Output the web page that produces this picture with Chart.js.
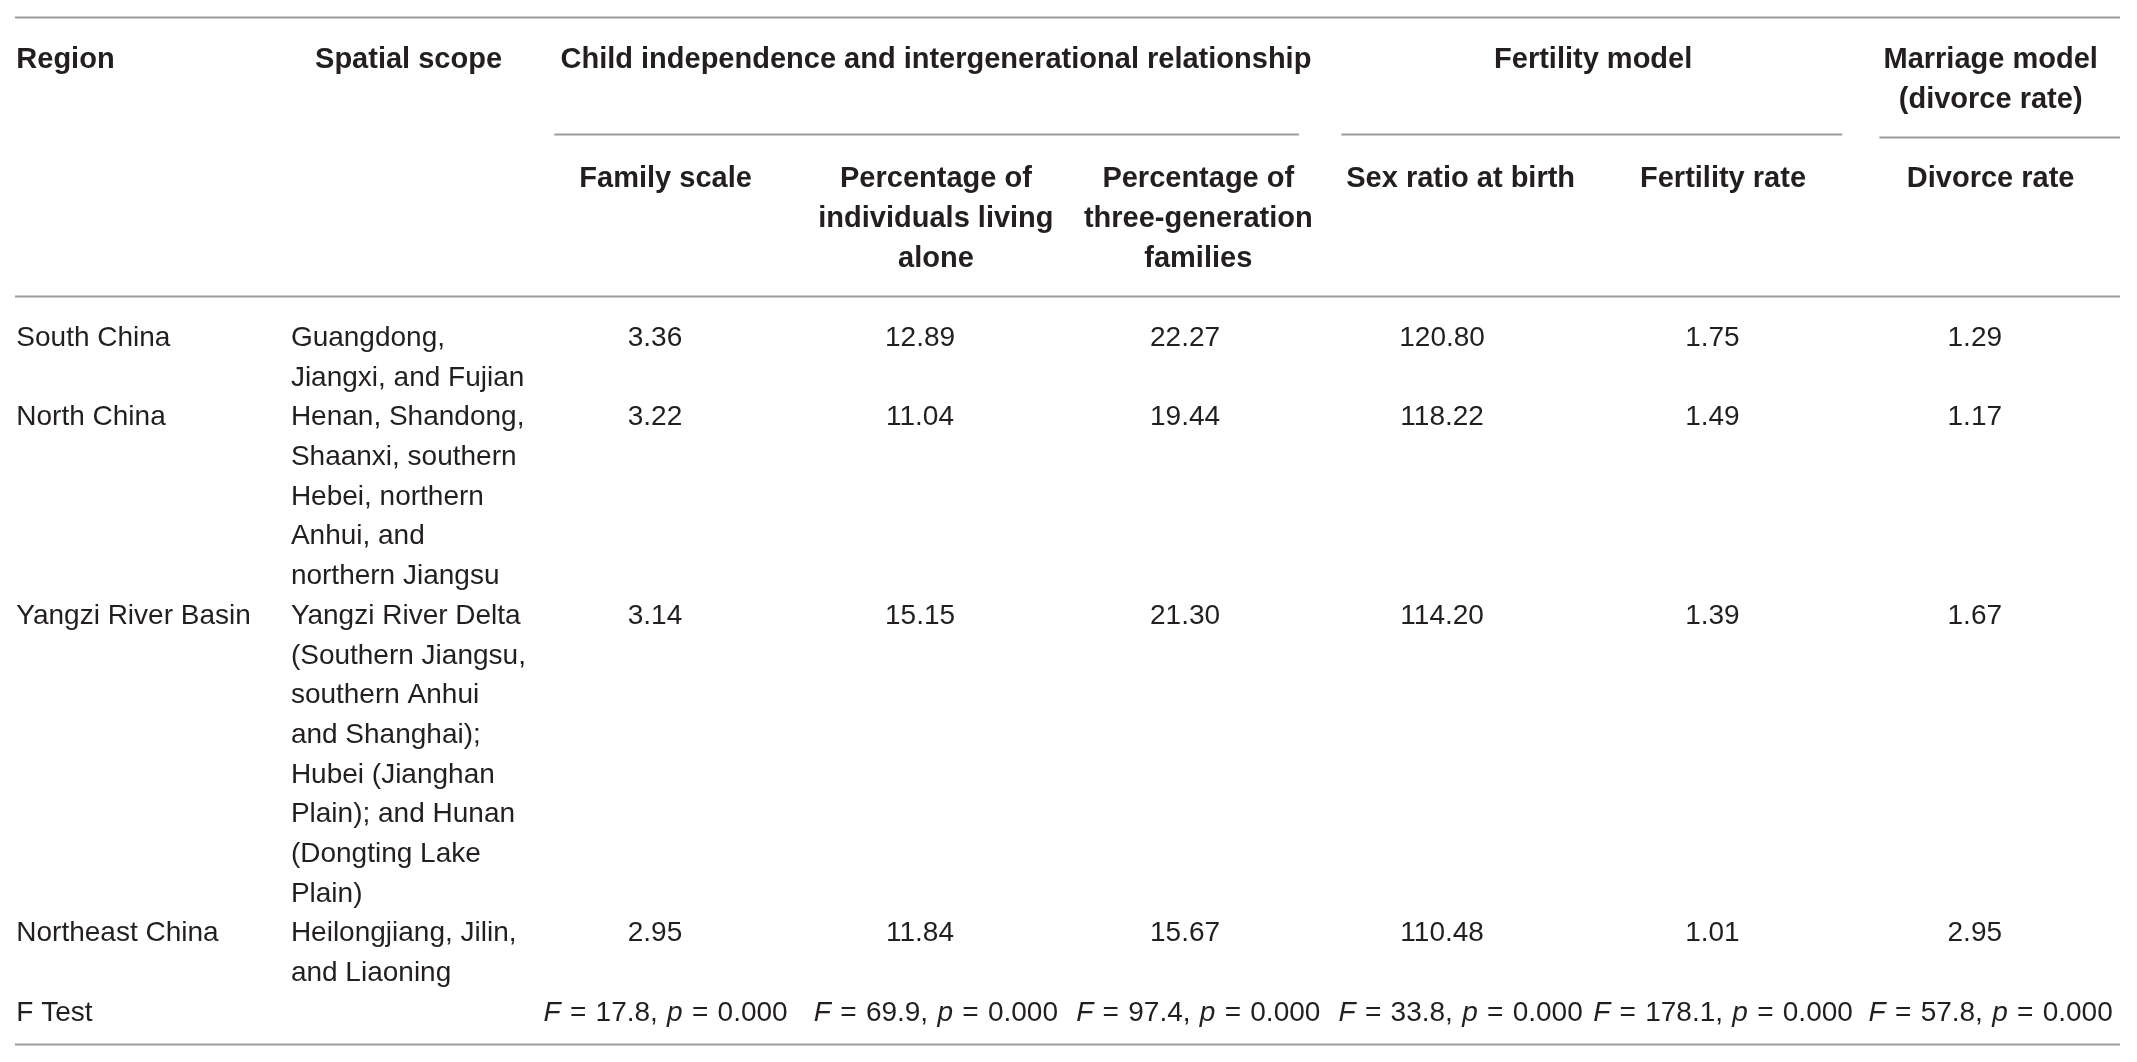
<!DOCTYPE html>
<html>
<head>
<meta charset="utf-8">
<script src="https://cdn.jsdelivr.net/npm/chart.js@4.4.1/dist/chart.umd.min.js"></script>
<style>
  html, body { margin: 0; padding: 0; background: #fff; }
  #wrap { width: 2137px; height: 1062px; }
</style>
</head>
<body>
<div id="wrap"><canvas id="tabla"></canvas></div>
<script>
// datos de la tabla
const regions = ["South China", "North China", "Yangzi River Basin", "Northeast China"];
const spatialScope = [
  ["Guangdong,", "Jiangxi, and Fujian"],
  ["Henan, Shandong,", "Shaanxi, southern", "Hebei, northern", "Anhui, and", "northern Jiangsu"],
  ["Yangzi River Delta", "(Southern Jiangsu,", "southern Anhui", "and Shanghai);", "Hubei (Jianghan", "Plain); and Hunan", "(Dongting Lake", "Plain)"],
  ["Heilongjiang, Jilin,", "and Liaoning"]
];
const familyScale = [3.36, 3.22, 3.14, 2.95];
const livingAlone = [12.89, 11.04, 15.15, 11.84];
const threeGeneration = [22.27, 19.44, 21.30, 15.67];
const sexRatio = [120.80, 118.22, 114.20, 110.48];
const fertilityRate = [1.75, 1.49, 1.39, 1.01];
const divorceRate = [1.29, 1.17, 1.67, 2.95];
const fValues = [17.8, 69.9, 97.4, 33.8, 178.1, 57.8];
const pValues = [0.000, 0.000, 0.000, 0.000, 0.000, 0.000];
const fTestLabel = "F Test";

const firstHeaders = ["Region", "Spatial scope"];
const groupHeaders = [
  ["Child independence and intergenerational relationship"],
  ["Fertility model"],
  ["Marriage model", "(divorce rate)"]
];
const columnHeaders = [
  ["Family scale"],
  ["Percentage of", "individuals living", "alone"],
  ["Percentage of", "three-generation", "families"],
  ["Sex ratio at birth"],
  ["Fertility rate"],
  ["Divorce rate"]
];

const numericColumns = [familyScale, livingAlone, threeGeneration, sexRatio, fertilityRate, divorceRate];

// filas: cada region ocupa tantas lineas como su alcance espacial
let linea = 7;
const rowLine = spatialScope.map(function (lineas) {
  const inicio = linea;
  linea += lineas.length;
  return inicio;
});
const fLine = linea;

const colorTexto = "#231f20";
const colorRegla = "#9b9b9b";
const fuente = "'Liberation Sans', Arial, Helvetica, sans-serif";
const REGION_X = -0.41;
const SPATIAL_X = 0.626;
// posicion (en unidades de columna) de cifras y encabezados
const posCifras = [2.0, 3.0, 4.0, 4.97, 5.99, 6.98];
const posEncabezado = [2.04, 3.06, 4.05, 5.04, 6.03, 7.04];

let datasets = [];
datasets.push({
  tipo: "texto",
  textos: regions.map(r => [r]),
  data: regions.map((r, i) => ({ x: REGION_X, y: rowLine[i] }))
});
datasets.push({
  tipo: "texto",
  textos: spatialScope,
  data: spatialScope.map((s, i) => ({ x: SPATIAL_X, y: rowLine[i] }))
});
datasets.push({
  tipo: "texto",
  textos: [[fTestLabel]],
  data: [{ x: REGION_X, y: fLine }]
});
numericColumns.forEach(function (columna, k) {
  datasets.push({
    tipo: "numero",
    textos: columna.map(v => v.toFixed(2)),
    data: columna.map((v, i) => ({ x: posCifras[k], y: rowLine[i] }))
  });
});
datasets.push({
  tipo: "ftest",
  textos: fValues.map((f, k) => [
    { t: "F", it: true }, { t: " = " + f.toFixed(1) + ", " },
    { t: "p", it: true }, { t: " = " + pValues[k].toFixed(3) }
  ]),
  data: fValues.map((f, k) => ({ x: posEncabezado[k], y: fLine }))
});
datasets.forEach(d => { d.pointRadius = 0; d.pointHoverRadius = 0; });

// texto con partes en cursiva; los espacios van un poco mas anchos
function dibujarCorridas(ctx, corridas, cx, y) {
  const extra = 1.5;
  let total = 0;
  corridas.forEach(function (c) {
    ctx.font = (c.it ? "italic " : "") + "28px " + fuente;
    const espacios = c.t.split(" ").length - 1;
    c.w = ctx.measureText(c.t).width + espacios * extra;
    total += c.w;
  });
  let x = cx - total / 2;
  ctx.textAlign = "left";
  corridas.forEach(function (c) {
    ctx.font = (c.it ? "italic " : "") + "28px " + fuente;
    let xx = x;
    c.t.split(" ").forEach(function (trozo, n) {
      if (n > 0) xx += ctx.measureText(" ").width + extra;
      ctx.fillText(trozo, xx, y);
      xx += ctx.measureText(trozo).width;
    });
    x += c.w;
  });
}

const tablaPlugin = {
  id: "tabla",
  afterDatasetsDraw(chart) {
    const ctx = chart.ctx;
    const xs = chart.scales.x;
    const ys = chart.scales.y;
    const area = chart.chartArea;
    const base = 10;
    ctx.save();
    ctx.fillStyle = colorTexto;
    ctx.textBaseline = "alphabetic";

    // reglas horizontales
    ctx.strokeStyle = colorRegla;
    ctx.lineWidth = 2;
    function regla(x0, x1, v) {
      const y = Math.round(ys.getPixelForValue(v)) + 0.5;
      ctx.beginPath();
      ctx.moveTo(x0, y);
      ctx.lineTo(x1, y);
      ctx.stroke();
    }
    regla(area.left, area.right, ys.min + 0.02);
    regla(area.left, area.right, 5.99);
    regla(area.left, area.right, ys.max - 0.02);
    regla(xs.getPixelForValue(1.62), xs.getPixelForValue(4.43), 1.92);
    regla(xs.getPixelForValue(4.59), xs.getPixelForValue(6.48), 1.92);
    regla(xs.getPixelForValue(6.62), area.right, 1.98);

    // encabezados
    ctx.font = "bold 29px " + fuente;
    ctx.textAlign = "left";
    ctx.fillText(firstHeaders[0], xs.getPixelForValue(REGION_X), ys.getPixelForValue(0) + base);
    ctx.textAlign = "center";
    ctx.fillText(firstHeaders[1], xs.getPixelForValue(1.07), ys.getPixelForValue(0) + base);
    const centrosGrupo = [3.06, 5.54, 7.04];
    groupHeaders.forEach(function (lineas, g) {
      lineas.forEach(function (t, j) {
        ctx.fillText(t, xs.getPixelForValue(centrosGrupo[g]), ys.getPixelForValue(j) + base);
      });
    });
    columnHeaders.forEach(function (lineas, k) {
      lineas.forEach(function (t, j) {
        ctx.fillText(t, xs.getPixelForValue(posEncabezado[k]), ys.getPixelForValue(3 + j) + base);
      });
    });

    // celdas
    chart.data.datasets.forEach(function (ds, d) {
      const meta = chart.getDatasetMeta(d);
      meta.data.forEach(function (el, i) {
        const t = ds.textos[i];
        if (ds.tipo === "texto") {
          ctx.font = "28px " + fuente;
          ctx.textAlign = "left";
          t.forEach(function (l, j) {
            ctx.fillText(l, el.x, ys.getPixelForValue(ds.data[i].y + j) + base);
          });
        } else if (ds.tipo === "numero") {
          ctx.font = "28px " + fuente;
          ctx.textAlign = "center";
          ctx.fillText(t, el.x, el.y + base);
        } else {
          dibujarCorridas(ctx, t, el.x, el.y + base);
        }
      });
    });
    ctx.restore();
  }
};

new Chart(document.getElementById("tabla"), {
  type: "scatter",
  data: { datasets: datasets },
  options: {
    responsive: true,
    maintainAspectRatio: false,
    animation: false,
    events: [],
    layout: { padding: { left: 15, right: 17, top: 16, bottom: 17 } },
    plugins: { legend: { display: false }, tooltip: { enabled: false } },
    scales: {
      x: { type: "linear", display: false, min: -0.415, max: 7.528 },
      y: { type: "linear", display: false, reverse: true, min: -1.058, max: 24.86 }
    }
  },
  plugins: [tablaPlugin]
});
</script>
</body>
</html>
